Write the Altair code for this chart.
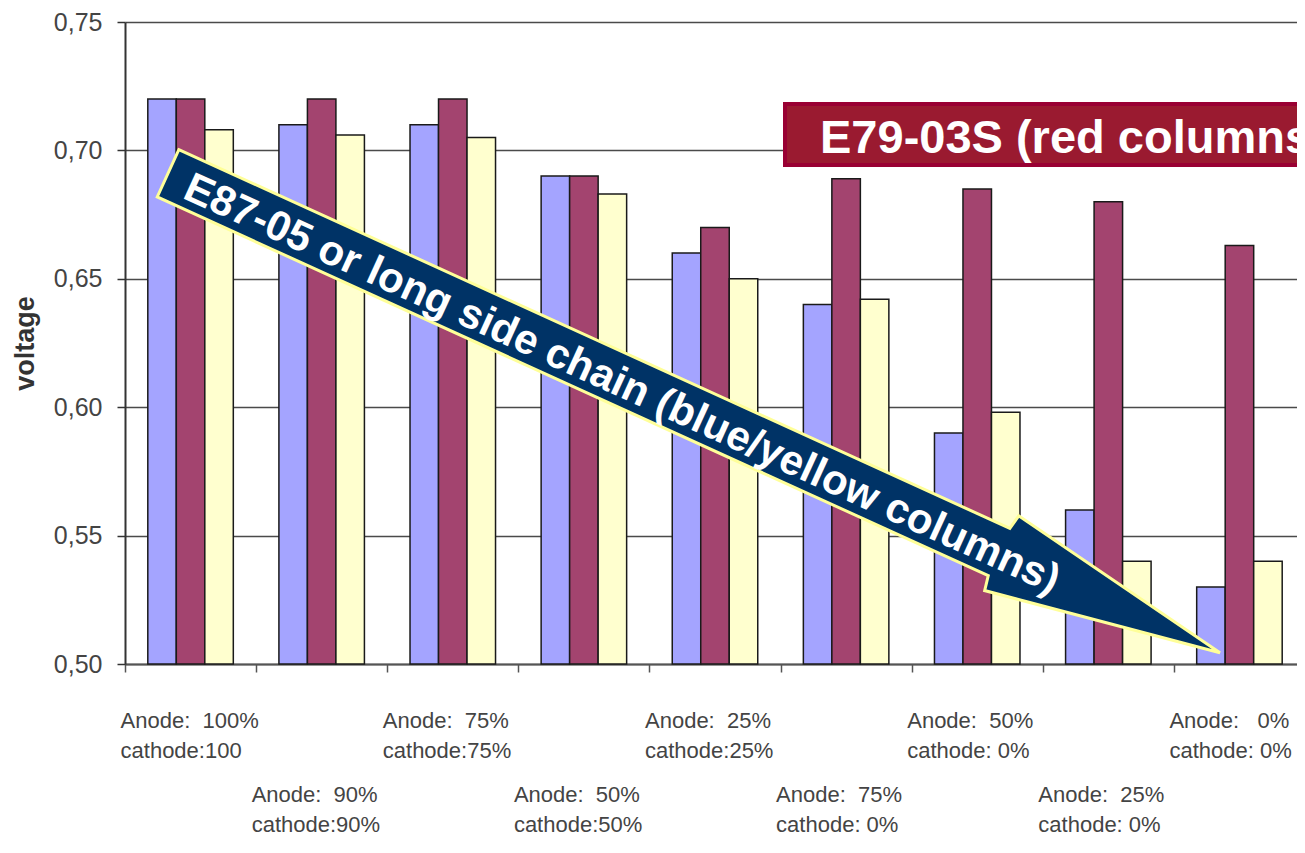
import altair as alt
import pandas as pd

# ---- data ----
categories = ["100/100", "90/90", "75/75", "50/50", "25/25", "75/0", "50/0", "25/0", "0/0"]
label_line1 = ["Anode:  100%", "Anode:  90%", "Anode:  75%", "Anode:  50%", "Anode:  25%",
               "Anode:  75%", "Anode:  50%", "Anode:  25%", "Anode:   0%"]
label_line2 = ["cathode:100", "cathode:90%", "cathode:75%", "cathode:50%", "cathode:25%",
               "cathode: 0%", "cathode: 0%", "cathode: 0%", "cathode: 0%"]
series_names = ["Series 1", "Series 2", "Series 3"]
blue_values = [0.720, 0.710, 0.710, 0.690, 0.660, 0.640, 0.590, 0.560, 0.530]
red_values = [0.720, 0.720, 0.720, 0.690, 0.670, 0.689, 0.685, 0.680, 0.663]
yellow_values = [0.708, 0.706, 0.705, 0.683, 0.650, 0.642, 0.598, 0.540, 0.540]
y_ticks = [0.50, 0.55, 0.60, 0.65, 0.70, 0.75]
red_note = ["E79-03S (red columns)"]
arrow_note = ["E87-05 or long side chain (blue/yellow columns)"]

series_colors = ["#A4A4FF", "#A3446F", "#FFFFCF"]

rows = []
for i, cat in enumerate(categories):
    for s, vals in zip(series_names, [blue_values, red_values, yellow_values]):
        rows.append({"category": cat, "series": s, "value": vals[i]})
df = pd.DataFrame(rows)

lab_df = pd.DataFrame({
    "category": categories,
    "label": [(a + "\n" + b).replace(" ", "\u00a0") for a, b in zip(label_line1, label_line2)],
    "row": [1 if i % 2 == 0 else 2 for i in range(len(categories))],
})

FONT = "Liberation Sans, Arial, Helvetica, sans-serif"

xscale = alt.Scale(domain=categories, paddingInner=0, paddingOuter=0, range=[0, 1180])

bars = alt.Chart(df).mark_bar(stroke="#1a1a1a", strokeWidth=1.5).encode(
    x=alt.X("category:N", sort=categories, scale=xscale,
            axis=alt.Axis(labels=False, title=None, tickBand="extent", tickSize=8,
                          tickColor="#555", tickWidth=1.5, domainColor="#555",
                          domainWidth=2, grid=False)),
    xOffset=alt.XOffset("series:N", sort=series_names,
                        scale=alt.Scale(domain=series_names, paddingInner=0, paddingOuter=0.8)),
    y=alt.Y("value:Q", scale=alt.Scale(domain=[0.5, 0.75], zero=False, nice=False),
            axis=alt.Axis(values=y_ticks,
                          labelExpr="replace(format(datum.value, '.2f'), '.', ',')",
                          labelFont=FONT, labelFontSize=25, labelColor="#444",
                          labelPadding=15, tickSize=8, tickColor="#333", tickWidth=1.5,
                          domainColor="#333", domainWidth=2, gridColor="#4a4a4a",
                          gridWidth=1.5, title="voltage", titleFont=FONT,
                          titleFontSize=27, titleFontWeight="bold", titleColor="#333",
                          titleX=-100, titleY=321, titleAngle=270,
                          titleAlign="center", titleBaseline="middle")),
    y2=alt.datum(0.5),
    color=alt.Color("series:N", sort=series_names,
                    scale=alt.Scale(domain=series_names, range=series_colors), legend=None),
)

def label_layer(row, ypix):
    return alt.Chart(lab_df).transform_filter(f"datum.row == {row}").mark_text(
        align="left", baseline="alphabetic", dx=-70, lineBreak="\n", lineHeight=30,
        font=FONT, fontSize=22, color="#444"
    ).encode(
        x=alt.X("category:N", sort=categories, scale=xscale),
        y=alt.value(ypix),
        text="label:N",
    )

labels1 = label_layer(1, 706)
labels2 = label_layer(2, 780)

red_df = pd.DataFrame({"t": red_note})
red_box = alt.Chart(red_df).mark_rect(fill="#9A1A30", stroke="#990033", strokeWidth=4).encode(
    x=alt.value(660), x2=alt.value(1250), y=alt.value(82), y2=alt.value(143)
)
red_text = alt.Chart(red_df).mark_text(
    align="left", baseline="alphabetic", font=FONT, fontWeight="bold", fontSize=47, color="white"
).encode(x=alt.value(695), y=alt.value(131), text="t:N")

arrow_path = ("M -1 -0.045 L 0.58 -0.045 L 0.585 -0.071 L 1 0 "
              "L 0.585 0.071 L 0.58 0.045 L -1 0.045 Z")
arrow_df = pd.DataFrame({"t": arrow_note})
arrow = alt.Chart(arrow_df).mark_point(
    shape=arrow_path, filled=True, fill="#003366", stroke="#FFFF99", strokeWidth=3,
    opacity=1, fillOpacity=1, strokeOpacity=1, angle=24.5, size=1336336
).encode(x=alt.value(569), y=alt.value(391))
arrow_text = alt.Chart(arrow_df).mark_text(
    align="center", baseline="middle", font=FONT, fontWeight="bold", fontSize=42,
    color="white", angle=24.5
).encode(x=alt.value(497), y=alt.value(362), text="t:N")

chart = alt.layer(bars, labels1, labels2, red_box, red_text, arrow, arrow_text).properties(
    width=1172, height=642,
    autosize=alt.AutoSizeParams(type="none"),
    padding={"left": 117, "top": 14, "right": 0, "bottom": 176},
    background="white",
).configure_view(stroke=None)

chart.save("out.html", embed_options={"renderer": "svg", "actions": False})
